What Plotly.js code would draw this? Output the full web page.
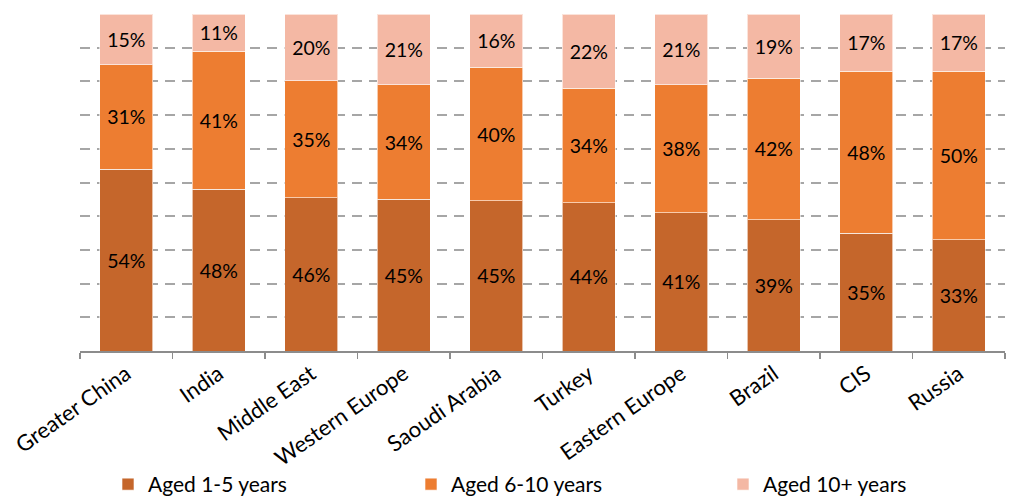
<!DOCTYPE html>
<html>
<head>
<meta charset="utf-8">
<script src="https://cdn.plot.ly/plotly-3.0.1.min.js"></script>
<style>
  html, body { margin: 0; padding: 0; background: #ffffff; }
  #chart { width: 1012px; height: 499px; }
</style>
</head>
<body>
<div id="chart"></div>
<script>
// Fleet age split by region (share of vehicles per age band)
const regions = ["Greater China", "India", "Middle East", "Western Europe", "Saoudi Arabia",
                 "Turkey", "Eastern Europe", "Brazil", "CIS", "Russia"];
const aged1to5  = [54, 48, 46, 45, 45, 44, 41, 39, 35, 33];
const aged6to10 = [31, 41, 35, 34, 40, 34, 38, 42, 48, 50];
const aged10plus = [15, 11, 20, 21, 16, 22, 21, 19, 17, 17];
const seriesNames = ["Aged 1-5 years", "Aged 6-10 years", "Aged 10+ years"];
const seriesColors = ["#C5662B", "#ED7D31", "#F4B8A4"];
const legendIds = ["legend", "legend2", "legend3"];

const W = 1012, H = 499;
const fontFamily = "Lato, 'Open Sans', sans-serif";
const labelFont = { family: fontFamily, size: 19.5, color: "#000000" };

function bandTrace(values, i) {
  return {
    type: "bar",
    name: seriesNames[i],
    legend: legendIds[i],
    x: regions,
    y: values,
    text: values.map(v => v + "%"),
    textposition: "inside",
    insidetextanchor: "middle",
    textangle: 0,
    textfont: labelFont,
    constraintext: "none",
    marker: { color: seriesColors[i], line: { color: "rgba(255,255,255,0.6)", width: 1 } },
    hoverinfo: "skip"
  };
}

const data = [bandTrace(aged1to5, 0), bandTrace(aged6to10, 1), bandTrace(aged10plus, 2)];

// one legend box per series, spread along the bottom edge
function legendBox(leftPx) {
  return {
    orientation: "h",
    xref: "container",
    yref: "container",
    x: leftPx / W,
    xanchor: "left",
    y: 1 - 464 / H,
    yanchor: "top",
    itemwidth: 30,
    bgcolor: "rgba(0,0,0,0)",
    font: { family: fontFamily, size: 21, color: "#000000" }
  };
}

const layout = {
  width: W,
  height: H,
  barmode: "stack",
  barnorm: "percent",
  bargap: 0.43,
  margin: { l: 80, r: 7, t: 14, b: 148, autoexpand: false },
  paper_bgcolor: "#ffffff",
  plot_bgcolor: "#ffffff",
  font: labelFont,
  xaxis: {
    type: "category",
    tickangle: -35,
    tickfont: { family: fontFamily, size: 22, color: "#000000" },
    automargin: false,
    showline: true,
    linecolor: "#8C8C8C",
    linewidth: 1.5,
    ticks: "outside",
    tickson: "boundaries",
    ticklen: 6,
    tickcolor: "#8C8C8C",
    tickwidth: 1.5,
    showgrid: false,
    zeroline: false,
    fixedrange: true
  },
  yaxis: {
    range: [0, 100],
    dtick: 10,
    showticklabels: false,
    showgrid: true,
    gridcolor: "#A6A6A6",
    gridwidth: 2,
    griddash: "10px,7px",
    showline: false,
    zeroline: false,
    ticks: "",
    fixedrange: true
  },
  showlegend: true,
  legend: legendBox(108),
  legend2: legendBox(411),
  legend3: legendBox(723)
};

Plotly.newPlot("chart", data, layout, { displayModeBar: false, staticPlot: true });
</script>
</body>
</html>
